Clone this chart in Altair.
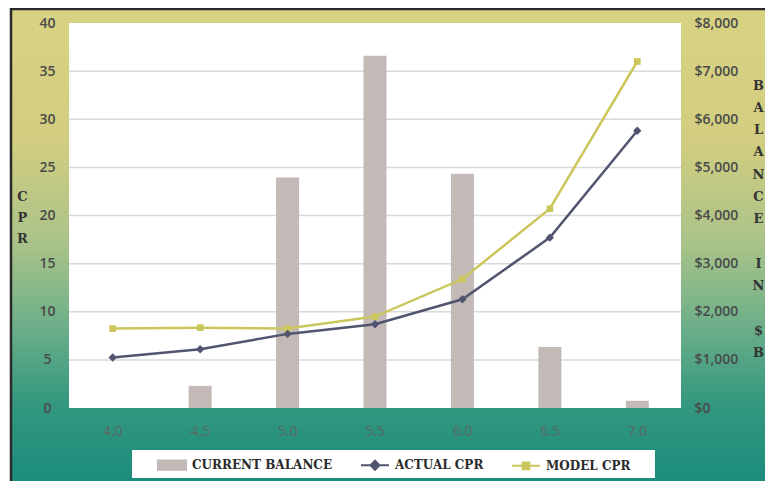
import altair as alt
import pandas as pd

# ---- data ----
rates = ["4.0", "4.5", "5.0", "5.5", "6.0", "6.5", "7.0"]
balance = [0, 460, 4790, 7320, 4870, 1270, 150]
actual_cpr = [5.25, 6.1, 7.7, 8.7, 11.3, 17.7, 28.8]
model_cpr = [8.25, 8.35, 8.25, 9.5, 13.4, 20.7, 36.0]

cpr_ticks = [0, 5, 10, 15, 20, 25, 30, 35, 40]
grid_values = [5, 10, 15, 20, 25, 30, 35]
bal_ticks = [0, 1000, 2000, 3000, 4000, 5000, 6000, 7000, 8000]

legend_labels = ["CURRENT BALANCE", "ACTUAL CPR", "MODEL CPR"]
legend_colors = ["#c3bab7", "#51556f", "#cbc75d"]
legend_shapes = [
    "M-1,-0.33H1V0.33H-1Z",
    "M-1,0H1M0,-0.32L0.32,0L0,0.32L-0.32,0Z",
    "M-1,0H1M-0.24,-0.24H0.24V0.24H-0.24Z",
]

ZW = "\u200b"
left_title = ["C", "P", "R"]
right_title = ["B", "A", "L", "A", "N", "C", "E", ZW, "I", "N", ZW, "$", "B"]

df = pd.DataFrame({"rate": rates, "balance": balance,
                   "actual": actual_cpr, "model": model_cpr})

W, H = 612, 385
TICK_FONT = "Open Sans"
SERIF = "DejaVu Serif"

x_axis = alt.Axis(labelAngle=0, domain=False, ticks=False, grid=False,
                  labelPadding=16, labelFont=TICK_FONT, labelFontSize=14,
                  labelColor="#5d6865", title=None, zindex=1)
x_enc = alt.X("rate:N", sort=rates,
              scale=alt.Scale(paddingInner=0, paddingOuter=0), axis=x_axis)

one = alt.InlineData(values=[{"k": 0}])

# decorative gradient background
grad = alt.Gradient(
    gradient="linear", x1=0, x2=0, y1=0, y2=1,
    stops=[
        alt.GradientStop(offset=0, color="#d8d283"),
        alt.GradientStop(offset=0.28, color="#d2cd80"),
        alt.GradientStop(offset=0.5, color="#a9c389"),
        alt.GradientStop(offset=0.68, color="#6aae89"),
        alt.GradientStop(offset=0.83, color="#35987f"),
        alt.GradientStop(offset=1, color="#1b8c7c"),
    ],
)
bg = alt.Chart(one).mark_rect(fill=grad).encode(
    x=alt.value(-59), x2=alt.value(696), y=alt.value(-15), y2=alt.value(458))
left_border = alt.Chart(one).mark_rule(color="#2a2a2a", strokeWidth=2.5).encode(
    x=alt.value(-58), y=alt.value(-15), y2=alt.value(458))
top_border = alt.Chart(one).mark_rule(color="#2a2a2a", strokeWidth=2.5).encode(
    x=alt.value(-59), x2=alt.value(696), y=alt.value(-14))
plot_bg = alt.Chart(one).mark_rect(fill="white").encode(
    x=alt.value(0), x2=alt.value(W), y=alt.value(0), y2=alt.value(H))
legend_bg = alt.Chart(one).mark_rect(fill="white").encode(
    x=alt.value(63), x2=alt.value(586), y=alt.value(427), y2=alt.value(455))

grid = alt.Chart(alt.InlineData(values=[{"g": v} for v in grid_values])).mark_rule(
    color="#d9d9d9", strokeWidth=1.5
).encode(y=alt.Y("g:Q", scale=alt.Scale(domain=[0, 40]), axis=None))

bars = alt.Chart().mark_bar(size=23, color="#c3bab7").encode(
    x=x_enc,
    y=alt.Y("balance:Q", scale=alt.Scale(domain=[0, 8000]),
            axis=alt.Axis(orient="right", values=bal_ticks, format="$,.0f",
                          grid=False, domain=False, ticks=False, tickSize=0,
                          labelPadding=13, labelAlign="left",
                          labelFont=TICK_FONT, labelFontSize=14, labelFontWeight=600,
                          labelColor="#4a4a4a",
                          title=right_title, titleAngle=0, titleX=77, titleY=56,
                          titleAlign="center", titleBaseline="top",
                          titleLineHeight=22.3, titleFont=SERIF, titleFontSize=13,
                          titleFontWeight="bold", titleColor="#333333", zindex=1)),
)

cpr_axis = alt.Axis(orient="left", values=cpr_ticks, grid=False, domain=False,
                    ticks=False, tickSize=0, labelPadding=22, labelAlign="center",
                    labelFont=TICK_FONT, labelFontSize=14, labelFontWeight=600,
                    labelColor="#4a4a4a",
                    title=left_title, titleAngle=0, titleX=-47, titleY=167,
                    titleAlign="center", titleBaseline="top", titleLineHeight=21,
                    titleFont=SERIF, titleFontSize=13, titleFontWeight="bold",
                    titleColor="#333333", zindex=1)
cpr_scale = alt.Scale(domain=[0, 40])

def series(field, color, shape, size):
    base = alt.Chart().encode(
        x=x_enc, y=alt.Y(f"{field}:Q", scale=cpr_scale, axis=cpr_axis))
    return (base.mark_line(color=color, strokeWidth=2.5)
            + base.mark_point(shape=shape, filled=True, opacity=1,
                              color=color, size=size))

cpr = alt.layer(series("model", "#cbc75d", "square", 45),
                series("actual", "#51556f", "diamond", 70))

leg = alt.Legend(orient="none", legendX=88, legendY=427, direction="horizontal",
                 title=None, labelFont=SERIF, labelFontSize=12,
                 labelFontWeight="bold", labelColor="#2b2b2b", labelOffset=5,
                 columnPadding=24, symbolSize=784, symbolStrokeWidth=2,
                 padding=0, labelLimit=300)
legend_layer = alt.Chart(
    alt.InlineData(values=[{"series": s} for s in legend_labels])
).transform_filter("false").mark_point(filled=True, opacity=1, size=784,
                                         strokeWidth=2).encode(
    fill=alt.Fill("series:N", scale=alt.Scale(domain=legend_labels,
                                              range=legend_colors), legend=leg),
    stroke=alt.Stroke("series:N", scale=alt.Scale(domain=legend_labels,
                                                  range=legend_colors), legend=leg),
    shape=alt.Shape("series:N", scale=alt.Scale(domain=legend_labels,
                                                range=legend_shapes), legend=leg),
)

chart = alt.layer(
    bg, left_border, top_border, plot_bg, legend_bg, grid, bars, cpr, legend_layer,
    data=df,
).resolve_scale(y="independent").properties(
    width=W, height=H,
    padding={"left": 61, "top": 15, "right": 84, "bottom": 73},
    autosize=alt.AutoSizeParams(type="none"),
).configure_view(stroke=None)

chart.save("out.html", embed_options={"renderer": "svg", "actions": False})
